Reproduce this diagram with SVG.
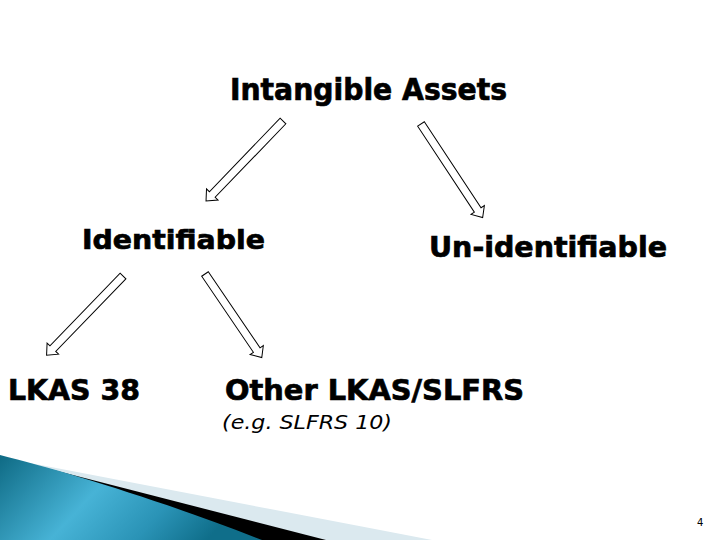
<svg xmlns="http://www.w3.org/2000/svg" width="720" height="540" viewBox="0 0 720 540">
<style>
.t{font-family:"DejaVu Sans","Verdana",sans-serif;font-weight:bold;fill:#000;stroke:#000;stroke-width:0.7}
.i{font-family:"DejaVu Sans","Verdana",sans-serif;font-style:italic;fill:#000}
.arr{fill:#fff;stroke:#000;stroke-width:1;stroke-linejoin:miter}
</style>
<defs>
<linearGradient id="blue" x1="0" y1="0" x2="1" y2="0.3">
<stop offset="0" stop-color="#0e6a84"/>
<stop offset="0.45" stop-color="#47b3d6"/>
<stop offset="0.75" stop-color="#2a93b6"/>
<stop offset="1" stop-color="#0f6e8a"/>
</linearGradient>
</defs>
<rect width="720" height="540" fill="#fff"/>
<g id="decoration">
<path d="M30,463 L380,530 L432,540 L0,540 Z" fill="#dbe9ef"/>
<path d="M34,465 L326,540 L0,540 Z" fill="#000"/>
<path d="M0,455 C60,470 160,500 262,540 L0,540 Z" fill="url(#blue)"/>
</g>
<g id="connectors">
<path class="arr" transform="translate(283,121) rotate(133.9)" d="M0,-4 L102,-4 L102,-8 L111,0 L102,8 L102,4 L0,4 Z"/>
<path class="arr" transform="translate(421,124) rotate(56.6)" d="M0,-4 L103,-4 L103,-8 L112,0 L103,8 L103,4 L0,4 Z"/>
<path class="arr" transform="translate(123,276) rotate(134)" d="M0,-4 L101,-4 L101,-8 L110,0 L101,8 L101,4 L0,4 Z"/>
<path class="arr" transform="translate(205,274) rotate(55.8)" d="M0,-4 L92,-4 L92,-8 L101,0 L92,8 L92,4 L0,4 Z"/>
</g>
<g id="intangible"><text class="t" x="230" y="100" font-size="30" textLength="277" lengthAdjust="spacingAndGlyphs">Intangible Assets</text></g>
<g id="identifiable"><text class="t" x="82" y="249" font-size="27" textLength="183" lengthAdjust="spacingAndGlyphs">Identifiable</text></g>
<g id="unidentifiable"><text class="t" x="429" y="257" font-size="28" textLength="238" lengthAdjust="spacingAndGlyphs">Un-identifiable</text></g>
<g id="lkas38"><text class="t" x="8" y="400" font-size="29" textLength="132" lengthAdjust="spacingAndGlyphs">LKAS 38</text></g>
<g id="other"><text class="t" x="225" y="400" font-size="29" textLength="299" lengthAdjust="spacingAndGlyphs">Other LKAS/SLFRS</text>
<text class="i" x="222" y="429" font-size="20" textLength="170" lengthAdjust="spacingAndGlyphs">(e.g. SLFRS 10)</text></g>
<g id="page"><text x="697" y="526" font-family="DejaVu Sans, sans-serif" font-size="10" fill="#000">4</text></g>
</svg>
